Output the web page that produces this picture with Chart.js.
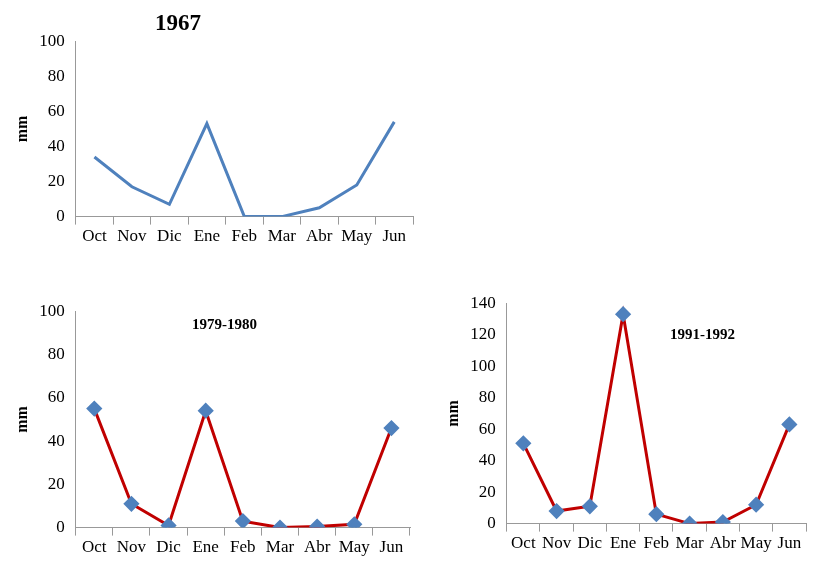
<!DOCTYPE html>
<html><head><meta charset="utf-8">
<script src="https://cdn.jsdelivr.net/npm/chart.js@4"></script>
<style>
body{margin:0;width:813px;height:561px;background:#fff;position:relative;overflow:hidden;font-family:"Liberation Serif",serif}
.c{position:absolute}
.t{position:absolute;font-weight:bold;font-family:"Liberation Serif",serif}
</style></head><body>
<div class="c" style="left:9px;top:28px;width:410px;height:221px"><canvas id="a"></canvas></div>
<div class="c" style="left:9px;top:298px;width:410px;height:262px"><canvas id="b"></canvas></div>
<div class="c" style="left:440px;top:290px;width:375px;height:266px"><canvas id="c"></canvas></div>
<div class="t" style="left:155px;top:10px;font-size:23px">1967</div>
<div class="t" style="left:192px;top:316px;font-size:15px">1979-1980</div>
<div class="t" style="left:670px;top:326px;font-size:15px">1991-1992</div>
<script>
const months=["Oct","Nov","Dic","Ene","Feb","Mar","Abr","May","Jun"];
const s1967=[34,17,7,53,0,0,5,18,54];
const s1979=[55,11,1,54,3,0,0.5,1.5,46];
const s1991=[51,8,11,133,6,0,1,12,63];
function mk(id,data,max,step,markers,color){
  new Chart(document.getElementById(id),{type:'line',
    data:{labels:months,datasets:[{data:data,borderColor:color,borderWidth:3,tension:0,
      pointStyle:'rectRot',pointRadius:markers?6:0,pointBackgroundColor:'#4f81bd',pointBorderColor:'#4f81bd'}]},
    options:{responsive:true,maintainAspectRatio:false,animation:false,
      plugins:{legend:{display:false},tooltip:{enabled:false}},
      layout:{padding:{top:4,right:6}},
      scales:{
        x:{offset:true,grid:{display:true,offset:true,drawOnChartArea:false,color:'#999',tickLength:8},border:{color:'#999'},
           ticks:{color:'#000',font:{family:'Liberation Serif',size:17},maxRotation:0,autoSkip:false,padding:2}},
        y:{min:0,max:max,grid:{display:false},border:{color:'#999'},
           ticks:{stepSize:step,color:'#000',font:{family:'Liberation Serif',size:17}},
           title:{display:true,text:'mm',color:'#000',font:{family:'Liberation Serif',size:16,weight:'bold'}}}
      }}});
}
mk('a',s1967,100,20,false,'#4f81bd');
mk('b',s1979,100,20,true,'#c00000');
mk('c',s1991,140,20,true,'#c00000');
</script></body></html>
